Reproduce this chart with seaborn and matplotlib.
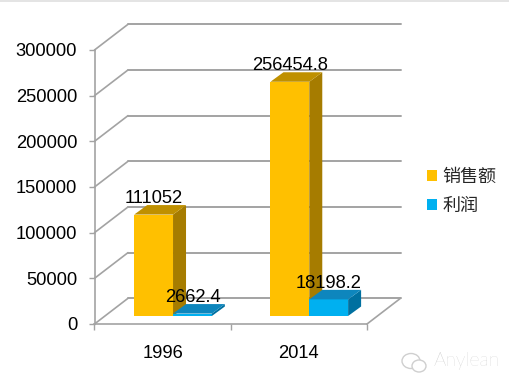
import pandas as pd
import numpy as np
import matplotlib
matplotlib.use('Agg')
import matplotlib.pyplot as plt
from matplotlib.patches import Polygon, Ellipse, Rectangle
import seaborn as sns

# Values
years = ['1996', '2014']
sales = [111052, 256454.8]
profit = [2662.4, 18198.2]
sales_label = ['111052', '256454.8']
profit_label = ['2662.4', '18198.2']
series_names = ['销售额', '利润']
y_ticks = [0, 50000, 100000, 150000, 200000, 250000, 300000]

front_colors = ['#FFC000', '#00B0F0']
side_colors = ['#A67C00', '#0070A0']
top_colors = ['#BF9000', '#0E86BD']
grid_color = '#A3A3A3'

df = pd.DataFrame({
    'year': years * 2,
    'value': sales + profit,
    'series': [series_names[0]] * 2 + [series_names[1]] * 2,
})

sns.set_theme(style='white')
plt.rcParams['font.family'] = ['Liberation Sans', 'Noto Sans CJK SC']

W, H = 509, 381
fig = plt.figure(figsize=(W / 100, H / 100), dpi=100)
ax = fig.add_axes([94.5 / W, (H - 324) / H, 272.5 / W, 274 / H])

sns.barplot(data=df, x='year', y='value', hue='series', palette=front_colors,
            width=0.57, gap=0, saturation=1, linewidth=0, ax=ax, zorder=3)
ax.set_xlim(-0.5, 1.5)
ax.set_ylim(0, 300000)

# pixel to data sizes for the fake 3d
px_x = 2 / 272.5
px_y = 300000 / 274
wall_dx, wall_dy = 33.5 * px_x, 25.7 * px_y
bar_dx, bar_dy = 10.4 * px_x, 8 * px_y
depth_dx, depth_dy = 13 * px_x, 9.5 * px_y

# back wall and floor
for t in y_ticks:
    ax.plot([-0.5, -0.5 + wall_dx], [t, t + wall_dy], color=grid_color, lw=1.2, zorder=1, clip_on=False)
    ax.plot([-0.5 + wall_dx, 1.5 + wall_dx], [t + wall_dy, t + wall_dy], color=grid_color, lw=1.4, zorder=1, clip_on=False)
ax.plot([1.5, 1.5 + wall_dx], [0, wall_dy], color=grid_color, lw=1.2, zorder=1, clip_on=False)

# move seaborn's bars back on the floor and add side and top faces
labels = [sales_label, profit_label]
for i, container in enumerate(ax.containers):
    for j, bar in enumerate(container):
        bar.set_x(bar.get_x() + bar_dx)
        bar.set_y(bar_dy)
        bar.set_clip_on(False)
        bar.set_zorder(3 + i)
        x0, x1 = bar.get_x(), bar.get_x() + bar.get_width()
        y0, y1 = bar_dy, bar_dy + bar.get_height()
        side = [(x1, y0), (x1 + depth_dx, y0 + depth_dy), (x1 + depth_dx, y1 + depth_dy), (x1, y1)]
        top = [(x0, y1), (x1, y1), (x1 + depth_dx, y1 + depth_dy), (x0 + depth_dx, y1 + depth_dy)]
        ax.add_patch(Polygon(side, closed=True, fc=side_colors[i], ec='none', zorder=3 + i, clip_on=False))
        ax.add_patch(Polygon(top, closed=True, fc=top_colors[i], ec='none', zorder=3 + i, clip_on=False))
        ax.annotate(labels[i][j], xy=((x0 + x1) / 2, y1), xytext=(0, 16), textcoords='offset pixels',
                    ha='center', va='center', fontsize=13.2, color='black', zorder=6, annotation_clip=False)

# axes
sns.despine(ax=ax)
for s in ['left', 'bottom']:
    ax.spines[s].set_color(grid_color)
    ax.spines[s].set_linewidth(1.2)
ax.set_xlabel('')
ax.set_ylabel('')
ax.set_yticks(y_ticks)
ax.set_yticklabels([str(t) for t in y_ticks])
ax.tick_params(axis='y', left=True, length=4, width=1, color=grid_color, labelsize=13.2, labelcolor='black', pad=8.5)
ax.set_xticks([-0.5, 0.5, 1.5], minor=True)
ax.tick_params(axis='x', which='minor', bottom=True, length=4, width=1, color=grid_color)
ax.tick_params(axis='x', which='major', bottom=False, labelsize=13.2, labelcolor='black', pad=9)

handles, leg_labels = ax.get_legend_handles_labels()
ax.legend(handles, leg_labels, loc='center left', bbox_to_anchor=(427 / W, (H - 192) / H),
          bbox_transform=fig.transFigure, frameon=False, prop={'size': 13},
          handlelength=0.58, handleheight=0.58, handletextpad=0.28, labelspacing=0.66,
          borderpad=0, borderaxespad=0)

# watermark and the grey strip on top of the screenshot
over = fig.add_axes([0, 0, 1, 1], zorder=10)
over.set_xlim(0, W)
over.set_ylim(H, 0)
over.axis('off')
over.patch.set_alpha(0)
over.add_patch(Rectangle((0, 0), W, 2, fc='#E4E4E4', ec='none'))
over.add_patch(Ellipse((411, 361), 18, 15, fc='none', ec='#CFCFCF', lw=1))
over.add_patch(Ellipse((419, 366), 14, 12, fc='white', ec='#CFCFCF', lw=1))
over.text(434, 361, 'Anylean', family='Lato', weight='light', fontsize=14, color='#C2C2C2', ha='left', va='center')

fig.savefig('out.png', dpi=100)
